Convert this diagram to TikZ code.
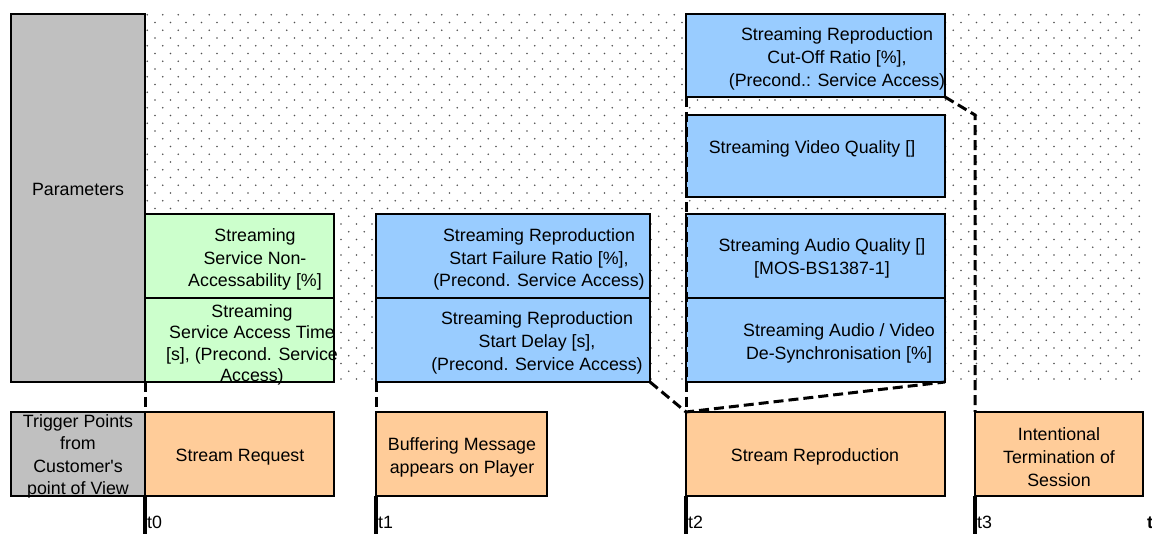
\documentclass[tikz,border=0pt]{standalone}
\usepackage{fontspec}
\setmainfont{Liberation Sans}
\usetikzlibrary{patterns}
\definecolor{pgray}{HTML}{C0C0C0}
\definecolor{pgreen}{HTML}{CCFFCC}
\definecolor{pblue}{HTML}{99CCFF}
\definecolor{porange}{HTML}{FFCC99}
\definecolor{dotgray}{HTML}{505050}
\pgfdeclarepatternformonly{bgdots}{\pgfpoint{-1pt}{-1pt}}{\pgfpoint{16.5pt}{16.5pt}}{\pgfpoint{15.5pt}{15.5pt}}{%
  \pgfpathcircle{\pgfpoint{0pt}{0pt}}{0.95pt}%
  \pgfpathcircle{\pgfpoint{7.75pt}{7.75pt}}{0.95pt}%
  \pgfusepath{fill}}
\begin{document}
\begin{tikzpicture}[x=1pt,y=-1pt,
  font=\fontsize{17.8}{22.8}\selectfont,
  box/.style={draw=black,line width=2.4pt,inner sep=0pt,outer sep=0pt},
  txt/.style={align=center,inner sep=0pt},
  cut/.style={line width=3pt,dash pattern=on 10pt off 5pt},
  tick/.style={line width=4.5pt}]
\useasboundingbox (0,0) rectangle (1152,534);
\clip (0,0) rectangle (1152,534);
% dotted background
\fill[pattern=bgdots,pattern color=dotgray] (145,14) rectangle (1143,382);

% parameter column labels
\node[box,fill=pgray,minimum width=134,minimum height=368] (par) at (78,198) {};
\node[txt] (partxt) at (78,189) {Parameters};
\node[box,fill=pgray,minimum width=134,minimum height=84] (trig) at (78,454) {};
\node[txt,font=\fontsize{17.8}{22.4}\selectfont] (trigtxt) at (78,456.5) {Trigger Points\\from\\Customer\textquotesingle s\\point of View};

% green
\node[box,fill=pgreen,minimum width=189,minimum height=84] (g1) at (239.5,256) {};
\node[txt] (g1t) at (255,259.5) {Streaming\\Service Non-\\Accessability [\%]};
\node[box,fill=pgreen,minimum width=189,minimum height=84] (g2) at (239.5,340) {};
\node[txt,font=\fontsize{17.8}{21.3}\selectfont] (g2t) at (252,345) {Streaming\\Service Access Time\\ {}[s], (Precond. Service\\Access)};

% blue column 2
\node[box,fill=pblue,minimum width=274,minimum height=84] (b1) at (513,256) {};
\node[txt] (b1t) at (539,259.5) {Streaming Reproduction\\Start Failure Ratio [\%],\\(Precond. Service Access)};
\node[box,fill=pblue,minimum width=274,minimum height=84] (b2) at (513,340) {};
\node[txt] (b2t) at (537,343) {Streaming Reproduction\\Start Delay [s],\\(Precond. Service Access)};

% blue column 3
\node[box,fill=pblue,minimum width=259,minimum height=83] (c1) at (815.5,55.5) {};
\node[txt] (c1t) at (837,59) {Streaming Reproduction\\Cut-Off Ratio [\%],\\(Precond.: Service Access)};
\node[box,fill=pblue,minimum width=259,minimum height=82] (c2) at (815.5,156) {};
\node[txt] (c2t) at (812,149) {Streaming Video Quality []};
\node[box,fill=pblue,minimum width=259,minimum height=84] (c3) at (815.5,256) {};
\node[txt] (c3t) at (822,258.5) {Streaming Audio Quality []\\ {}[MOS-BS1387-1]};
\node[box,fill=pblue,minimum width=259,minimum height=84] (c4) at (815.5,340) {};
\node[txt] (c4t) at (839,343) {Streaming Audio / Video\\De-Synchronisation [\%]};

% trigger boxes
\node[box,fill=porange,minimum width=189,minimum height=84] (o1) at (239.5,454) {};
\node[txt] (o1t) at (240,457) {Stream Request};
\node[box,fill=porange,minimum width=171,minimum height=84] (o2) at (461.5,454) {};
\node[txt] (o2t) at (462,457.5) {Buffering Message\\appears on Player};
\node[box,fill=porange,minimum width=259,minimum height=84] (o3) at (815.5,454) {};
\node[txt] (o3t) at (815,457) {Stream Reproduction};
\node[box,fill=porange,minimum width=168,minimum height=84] (o4) at (1059,454) {};
\node[txt] (o4t) at (1059,457) {Intentional\\Termination of\\Session};

% dashed connectors
\draw[cut] (g2.south west) -- (o1.north west);
\draw[cut] (b2.south west) -- (o2.north west);
\draw[cut] (c1.south west) -- (o3.north west);
\draw[cut] (b2.south east) -- (o3.north west) -- (c4.south east);
\coordinate (k3) at (975,115);
\draw[cut] (c1.south east) -- (k3) -- (o4.north west);

% time ticks
\coordinate (e0) at (145,534);
\coordinate (e1) at (376,534);
\coordinate (e2) at (686,534);
\coordinate (e3) at (975,534);
\draw[tick] (o1.south west) -- (e0);
\draw[tick] (o2.south west) -- (e1);
\draw[tick] (o3.south west) -- (e2);
\draw[tick] (o4.south west) -- (e3);
\node[anchor=west,inner sep=0pt] (l0) at (147,522) {t0};
\node[anchor=west,inner sep=0pt] (l1) at (378,522) {t1};
\node[anchor=west,inner sep=0pt] (l2) at (688,522) {t2};
\node[anchor=west,inner sep=0pt] (l3) at (977,522) {t3};
\node[anchor=west,inner sep=0pt,font=\fontsize{17.8}{22.8}\selectfont\bfseries] (lt) at (1147,523) {t};
\end{tikzpicture}
\end{document}
